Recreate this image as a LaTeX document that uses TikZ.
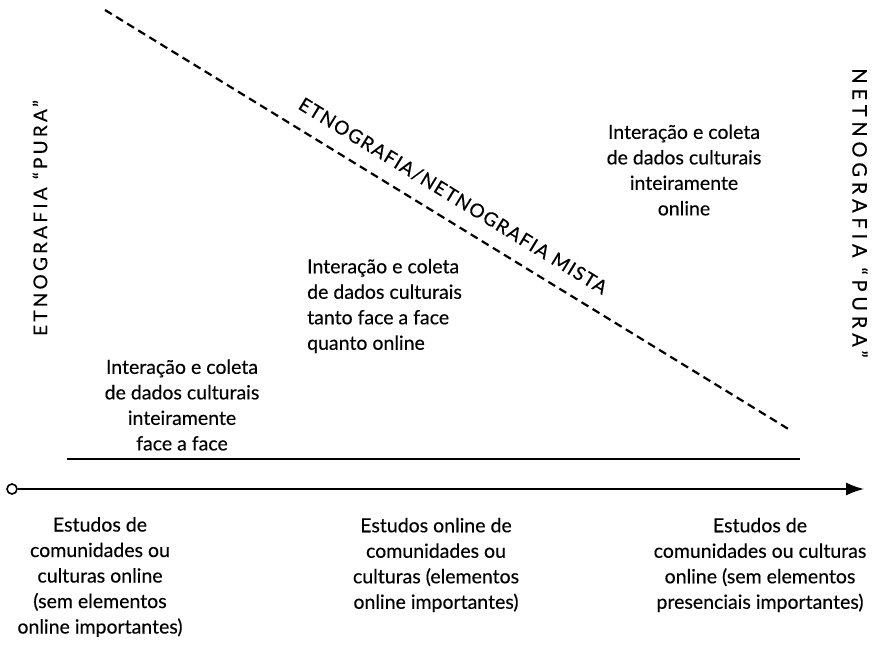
\documentclass[tikz,border=0pt]{standalone}
\usepackage{fontspec}
\setmainfont{Lato}[FakeBold=0.3]
\usetikzlibrary{arrows.meta}
\begin{document}
\begin{tikzpicture}[x=1pt,y=-1pt,
  txt/.style={font=\fontsize{19.5}{25.5}\selectfont, align=center, inner sep=0pt},
  txtl/.style={font=\fontsize{19.5}{25.5}\selectfont, align=left, inner sep=0pt},
  captxt/.style={inner sep=0pt},
  dashline/.style={line width=2.2pt, dash pattern=on 8pt off 5pt},
  hline/.style={line width=1.6pt},
  axisline/.style={line width=1.6pt, -{Latex[length=18pt,width=13pt]}}
]
\useasboundingbox (0,0) rectangle (878,646);

% diagonal dashed line
\coordinate (d1) at (105,10);
\coordinate (d2) at (790,430);
\draw[dashline] (d1) -- (d2);
\node[captxt, rotate=-31.5, font=\fontsize{19}{20}\selectfont\addfontfeatures{LetterSpace=7}] (mixlabel) at (453,196) {ETNOGRAFIA/NETNOGRAFIA MISTA};

% vertical labels
\node[captxt, rotate=90, font=\fontsize{19}{20}\selectfont\addfontfeatures{LetterSpace=17}] (left) at (40,218) {ETNOGRAFIA “PURA”};
\node[captxt, rotate=-90, font=\fontsize{20}{20}\selectfont\addfontfeatures{LetterSpace=24}] (right) at (860,213) {NETNOGRAFIA “PURA”};

% horizontal solid line
\coordinate (s1) at (67,459);
\coordinate (s2) at (800,459);
\draw[hline] (s1) -- (s2);

% axis
\node[circle, draw, line width=1.6pt, minimum size=10pt, inner sep=0pt] (o) at (12,489) {};
\coordinate (tip) at (864,489);
\draw[axisline] (o) -- (tip);

% region texts
\node[txt] (ff) at (182,405) {Interação e coleta\\de dados culturais\\inteiramente\\face a face};
\node[txtl, anchor=west] (mid) at (307,306) {Interação e coleta\\de dados culturais\\tanto face a face\\quanto online};
\node[txt] (on) at (684,170) {Interação e coleta\\de dados culturais\\inteiramente\\online};

% bottom texts
\node[txt] (b1) at (100,577) {Estudos de\\comunidades ou\\culturas online\\(sem elementos\\online importantes)};
\node[txt] (b2) at (436,565) {Estudos online de\\comunidades ou\\culturas (elementos\\online importantes)};
\node[txt] (b3) at (760,565) {Estudos de\\comunidades ou culturas\\online (sem elementos\\presenciais importantes)};
\end{tikzpicture}
\end{document}
